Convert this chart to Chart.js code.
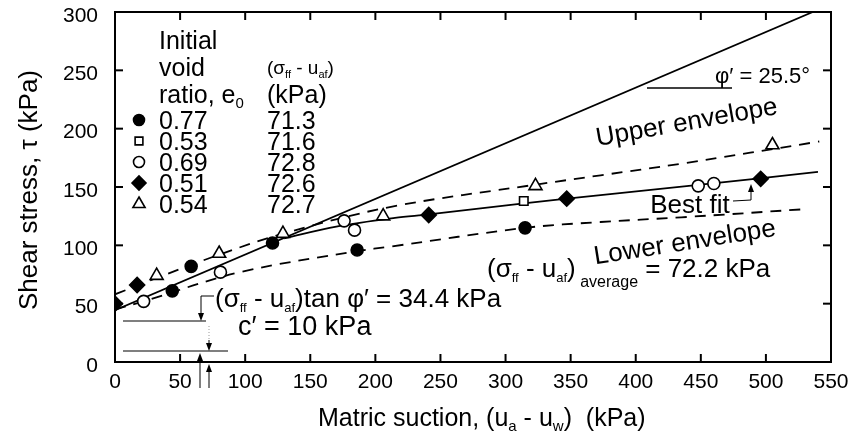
<!DOCTYPE html>
<html lang="en">
<head>
<meta charset="UTF-8">
<title>Shear stress vs matric suction</title>
<style>
  body { margin: 0; background: #fff; }
  #wrap { width: 857px; height: 443px; }
</style>
</head>
<body>
<div id="wrap"><canvas id="myChart" width="857" height="443"></canvas></div>
<script src="https://cdn.jsdelivr.net/npm/chart.js"></script>
<script>
  // tick values
  const suctionTicks = [0, 50, 100, 150, 200, 250, 300, 350, 400, 450, 500, 550];
  const stressTicks = [0, 50, 100, 150, 200, 250, 300];

  // legend table
  const voidRatios = ['0.77', '0.53', '0.69', '0.51', '0.54'];
  const netStress = ['71.3', '71.6', '72.8', '72.6', '72.7'];

  // test points, one pair of arrays per void ratio
  const e077x = [44, 58.5, 121, 186, 315];
  const e077y = [61, 82, 102, 96, 115];
  const e053x = [314];
  const e053y = [138];
  const e069x = [22, 81, 176, 184, 448, 460];
  const e069y = [52, 77, 121, 113, 151, 153];
  const e051x = [0, 17, 241, 347, 496];
  const e051y = [50, 66, 126, 140, 157];
  const e054x = [32, 80, 129, 206, 323, 505];
  const e054y = [74, 93, 110, 125, 151, 186];

  // lines
  const phiLineX = [0, 536];
  const phiLineY = [44.4, 300];
  const bestFitX = [130, 170, 215, 241, 314, 373, 450, 540];
  const bestFitY = [106, 116, 123.5, 126.5, 136, 143, 152, 163];
  const upperX = [0, 32, 80, 129, 212, 323, 373, 435, 541];
  const upperY = [58, 72, 92, 110, 133, 152, 160, 170, 189];
  const lowerX = [0, 22, 96, 186, 212, 315, 373, 435, 530];
  const lowerY = [45, 52, 77, 95, 99, 115, 120, 124, 131];

  const FONT = '"Liberation Sans", Arial, sans-serif';

  function pts(xs, ys) {
    return xs.map((x, i) => ({ x: x, y: ys[i] }));
  }

  // marker styles in legend order
  const markers = [
    { pointStyle: 'circle', radius: 6, bg: '#000' },
    { pointStyle: 'rect', radius: 6, bg: '#fff' },
    { pointStyle: 'circle', radius: 6, bg: '#fff' },
    { pointStyle: 'rectRot', radius: 7.5, bg: '#000' },
    { pointStyle: 'triangle', radius: 7.5, bg: '#fff' }
  ];
  const pointSets = [[e077x, e077y], [e053x, e053y], [e069x, e069y], [e051x, e051y], [e054x, e054y]];

  const datasets = [];
  pointSets.forEach((s, i) => {
    datasets.push({
      label: 'e0 = ' + voidRatios[i],
      data: pts(s[0], s[1]),
      showLine: false,
      pointStyle: markers[i].pointStyle,
      pointRadius: markers[i].radius,
      pointBackgroundColor: markers[i].bg,
      pointBorderColor: '#000',
      pointBorderWidth: 1.6,
      order: 0
    });
  });
  function lineSet(label, xs, ys, dash, tension) {
    return {
      label: label,
      data: pts(xs, ys),
      showLine: true,
      borderColor: '#000',
      borderWidth: 1.8,
      borderDash: dash,
      tension: tension,
      pointRadius: 0,
      order: 1
    };
  }
  datasets.push(lineSet('phi', phiLineX, phiLineY, [], 0));
  datasets.push(lineSet('Best fit', bestFitX, bestFitY, [], 0.35));
  datasets.push(lineSet('Upper envelope', upperX, upperY, [11, 8], 0.35));
  datasets.push(lineSet('Lower envelope', lowerX, lowerY, [11, 8], 0.35));

  // draw text made of pieces: [text, size, dy]
  function rich(ctx, x, y, parts) {
    ctx.textAlign = 'left';
    ctx.textBaseline = 'alphabetic';
    let cx = x;
    parts.forEach(p => {
      ctx.font = p[1] + 'px ' + FONT;
      ctx.fillText(p[0], cx, y + (p[2] || 0));
      cx += ctx.measureText(p[0]).width;
    });
    return cx;
  }
  function line(ctx, pts, w) {
    ctx.beginPath();
    ctx.lineWidth = w || 1.2;
    ctx.moveTo(pts[0][0], pts[0][1]);
    for (let i = 1; i < pts.length; i++) ctx.lineTo(pts[i][0], pts[i][1]);
    ctx.stroke();
  }
  function arrowHead(ctx, x, y, dir) {
    // dir 1 = pointing down, -1 = pointing up
    ctx.beginPath();
    ctx.moveTo(x, y);
    ctx.lineTo(x - 3, y - 8 * dir);
    ctx.lineTo(x + 3, y - 8 * dir);
    ctx.closePath();
    ctx.fill();
  }

  const decor = {
    id: 'decor',
    afterDraw(chart) {
      const ctx = chart.ctx;
      const a = chart.chartArea;
      const xs = chart.scales.x, ys = chart.scales.y;
      ctx.save();
      ctx.strokeStyle = '#000';
      ctx.fillStyle = '#000';

      // frame and inward ticks on every side
      ctx.lineWidth = 2;
      ctx.strokeRect(a.left, a.top, a.right - a.left, a.bottom - a.top);
      suctionTicks.forEach(v => {
        const px = xs.getPixelForValue(v);
        line(ctx, [[px, a.bottom], [px, a.bottom - 8]], 2);
        line(ctx, [[px, a.top], [px, a.top + 8]], 2);
      });
      stressTicks.forEach(v => {
        const py = ys.getPixelForValue(v);
        line(ctx, [[a.left, py], [a.left + 8, py]], 2);
        line(ctx, [[a.right, py], [a.right - 8, py]], 2);
      });

      // axis titles
      rich(ctx, 318, 426, [['Matric suction, (u', 25], ['a', 15, 5], [' - u', 25], ['w', 15, 5], [')  (kPa)', 25]]);
      ctx.save();
      ctx.translate(37, 190);
      ctx.rotate(-Math.PI / 2);
      ctx.font = '26px ' + FONT;
      ctx.textAlign = 'center';
      ctx.fillText('Shear stress, \u03c4 (kPa)', 0, 0);
      ctx.restore();

      // legend table
      rich(ctx, 159, 49, [['Initial', 25]]);
      rich(ctx, 159, 76, [['void', 25]]);
      rich(ctx, 159, 103, [['ratio, e', 25], ['0', 15, 5]]);
      rich(ctx, 267, 74, [['(\u03c3', 19], ['ff', 11, 4], [' - u', 19], ['af', 11, 4], [')', 19]]);
      rich(ctx, 267, 103, [['(kPa)', 25]]);
      voidRatios.forEach((r, i) => {
        const y = 120 + i * 21;
        ctx.fillStyle = markers[i].bg;
        ctx.lineWidth = 1.6;
        Chart.helpers.drawPoint(ctx, { pointStyle: markers[i].pointStyle, radius: markers[i].radius - 0.5, borderWidth: 1.6, rotation: 0 }, 139, y);
        ctx.fillStyle = '#000';
        rich(ctx, 159, y + 9, [[r, 25]]);
        rich(ctx, 267, y + 9, [[netStress[i], 25]]);
      });

      // friction angle label
      rich(ctx, 715, 83, [['\u03c6\u2032 = 25.5\u00b0', 22]]);
      line(ctx, [[647, 88], [732, 88]], 1.5);

      // envelope labels
      ctx.font = '26px ' + FONT;
      ctx.textAlign = 'center';
      ctx.save();
      ctx.translate(688, 130);
      ctx.rotate(-10 * Math.PI / 180);
      ctx.fillText('Upper envelope', 0, 0);
      ctx.restore();
      ctx.save();
      ctx.translate(686, 250);
      ctx.rotate(-9 * Math.PI / 180);
      ctx.fillText('Lower envelope', 0, 0);
      ctx.restore();
      ctx.fillText('Best fit', 690, 213);
      line(ctx, [[733, 201], [751, 200], [751, 188]], 1);
      arrowHead(ctx, 751, 184, -1);

      // average net normal stress
      rich(ctx, 487, 277, [['(\u03c3', 26], ['ff', 13, 5], [' - u', 26], ['af', 13, 5], [')', 26], [' average', 16, 10], [' = 72.2 kPa', 26]]);

      // intercept annotation
      rich(ctx, 215, 307, [['(\u03c3', 26], ['ff', 13, 5], [' - u', 26], ['af', 13, 5], [')tan \u03c6\u2032 = 34.4 kPa', 26]]);
      rich(ctx, 238, 335, [['c\u2032 = 10 kPa', 27]]);
      line(ctx, [[214, 296], [201, 296], [201, 314]], 1);
      arrowHead(ctx, 201, 321, 1);
      line(ctx, [[123, 321], [206, 321]], 1.2);
      ctx.save();
      ctx.strokeStyle = '#999';
      ctx.setLineDash([1, 2]);
      line(ctx, [[209, 326], [209, 340]], 1);
      ctx.restore();
      line(ctx, [[209, 340], [209, 345]], 1);
      arrowHead(ctx, 209, 351, 1);
      line(ctx, [[123, 351], [228, 351]], 1.2);
      line(ctx, [[200, 358], [200, 388]], 1);
      arrowHead(ctx, 200, 353, -1);
      line(ctx, [[209, 370], [209, 388]], 1);
      arrowHead(ctx, 209, 364, -1);

      ctx.restore();
    }
  };

  const ctx = document.getElementById('myChart').getContext('2d');
  const myChart = new Chart(ctx, {
    type: 'scatter',
    data: { datasets: datasets },
    options: {
      responsive: false,
      animation: false,
      layout: { padding: { top: 12, right: 26, left: 0, bottom: 0 } },
      plugins: { legend: { display: false }, tooltip: { enabled: false } },
      scales: {
        x: {
          type: 'linear', min: 0, max: 550,
          afterFit(s) { s.height = 81; s.paddingLeft = 0; s.paddingRight = 0; },
          afterBuildTicks(s) { s.ticks = suctionTicks.map(v => ({ value: v })); },
          ticks: { color: '#000', font: { family: FONT, size: 21 }, padding: 8, maxRotation: 0, autoSkip: false },
          grid: { drawOnChartArea: false, drawTicks: false },
          border: { display: false }
        },
        y: {
          type: 'linear', min: 0, max: 300,
          afterFit(s) { s.width = 115; s.paddingTop = 0; s.paddingBottom = 0; },
          afterBuildTicks(s) { s.ticks = stressTicks.map(v => ({ value: v })); },
          ticks: { color: '#000', font: { family: FONT, size: 21 }, padding: 17, labelOffset: 4, autoSkip: false },
          grid: { drawOnChartArea: false, drawTicks: false },
          border: { display: false }
        }
      }
    },
    plugins: [decor]
  });
</script>
</body>
</html>
